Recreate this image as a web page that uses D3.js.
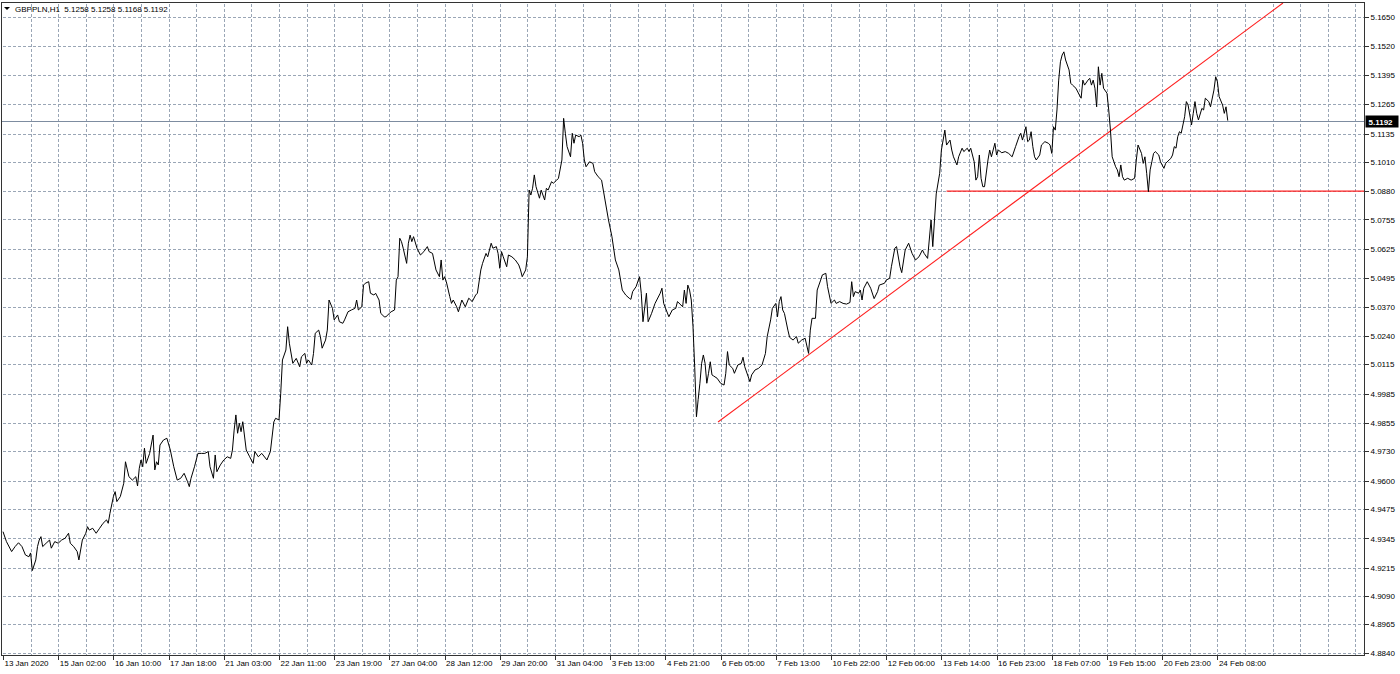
<!DOCTYPE html>
<html><head><meta charset="utf-8">
<script src="https://cdn.jsdelivr.net/npm/d3@7"></script>
<style>
html,body{margin:0;padding:0;background:#fff;overflow:hidden}
text{font-family:"Liberation Sans",Arial,sans-serif;}
</style>
</head><body>
<svg id="c" width="1400" height="674"></svg>
<script>
// ---------- DATA ----------
const symbolTitle = "GBPPLN,H1";
const headerOHLC = [5.1258, 5.1258, 5.1168, 5.1192];
const lastPrice = 5.1192;

const priceTicks = [5.1650, 5.1520, 5.1395, 5.1265, 5.1135, 5.1010, 5.0880, 5.0755, 5.0625, 5.0495,
  5.0370, 5.0240, 5.0115, 4.9985, 4.9855, 4.9730, 4.9600, 4.9475, 4.9345, 4.9215, 4.9090, 4.8965, 4.8840];

const timeLabelBars = [0, 32, 64, 96, 128, 160, 192, 224, 256, 288, 320, 352, 384, 416, 448, 480, 512, 544, 576, 608, 640, 672, 704];
const timeLabels = ["13 Jan 2020", "15 Jan 02:00", "16 Jan 10:00", "17 Jan 18:00", "21 Jan 03:00", "22 Jan 11:00",
  "23 Jan 19:00", "27 Jan 04:00", "28 Jan 12:00", "29 Jan 20:00", "31 Jan 04:00", "3 Feb 13:00", "4 Feb 21:00",
  "6 Feb 05:00", "7 Feb 13:00", "10 Feb 22:00", "12 Feb 06:00", "13 Feb 14:00", "16 Feb 23:00", "18 Feb 07:00",
  "19 Feb 15:00", "20 Feb 23:00", "24 Feb 08:00"];

// [bar index (H1), close]
const priceSeries = [
[0,4.9375],[2,4.9331],[5,4.9287],[7,4.9309],[9,4.9326],[11,4.9309],[13,4.9272],[15,4.9264],[16,4.9281],[17,4.9203],
[19,4.9250],[20,4.9309],[21,4.9338],[22,4.9353],[23,4.9309],[25,4.9324],[27,4.9338],[28,4.9302],[30,4.9331],[32,4.9324],
[34,4.9338],[36,4.9346],[38,4.9368],[39,4.9324],[41,4.9309],[43,4.9287],[44,4.9250],[46,4.9338],[48,4.9368],[49,4.9397],
[50,4.9382],[52,4.9390],[54,4.9368],[56,4.9390],[58,4.9412],[60,4.9427],[61,4.9412],[62,4.9456],[64,4.9530],[65,4.9552],
[66,4.9508],[68,4.9530],[70,4.9589],[71,4.9684],[73,4.9618],[75,4.9603],[77,4.9618],[78,4.9577],[79,4.9655],[80,4.9692],
[81,4.9662],[82,4.9744],[83,4.9677],[85,4.9721],[87,4.9802],[88,4.9648],[89,4.9684],[90,4.9670],[91,4.9758],[93,4.9780],
[95,4.9788],[97,4.9736],[99,4.9662],[101,4.9603],[103,4.9611],[105,4.9633],[107,4.9596],[108,4.9574],[109,4.9611],[111,4.9662],
[113,4.9721],[115,4.9721],[117,4.9721],[119,4.9729],[120,4.9662],[122,4.9611],[123,4.9714],[124,4.9640],[126,4.9670],[128,4.9692],
[130,4.9706],[132,4.9699],[133,4.9736],[134,4.9824],[135,4.9891],[136,4.9810],[137,4.9854],[138,4.9817],[139,4.9861],[141,4.9736],
[143,4.9706],[145,4.9677],[146,4.9729],[148,4.9706],[150,4.9721],[153,4.9692],[155,4.9729],[157,4.9860],[158,4.9876],[160,4.9869],
[161,4.9987],[162,5.0134],[164,5.0178],[165,5.0281],[166,5.0208],[168,5.0119],[170,5.0141],[172,5.0104],[173,5.0148],[175,5.0163],
[176,5.0119],[177,5.0134],[179,5.0112],[180,5.0163],[181,5.0252],[183,5.0266],[184,5.0237],[185,5.0186],[187,5.0222],[188,5.0266],
[189,5.0399],[191,5.0362],[192,5.0311],[194,5.0333],[195,5.0303],[197,5.0296],[198,5.0311],[200,5.0347],[202,5.0355],[204,5.0362],
[205,5.0399],[206,5.0355],[208,5.0369],[209,5.0465],[210,5.0473],[212,5.0480],[213,5.0429],[215,5.0421],[216,5.0429],[218,5.0399],
[219,5.0340],[221,5.0325],[222,5.0325],[224,5.0340],[225,5.0347],[227,5.0355],[228,5.0487],[229,5.0502],[230,5.0672],[231,5.0657],
[232,5.0628],[234,5.0561],[235,5.0650],[236,5.0686],[237,5.0657],[238,5.0679],[240,5.0628],[242,5.0598],[244,5.0613],[246,5.0635],
[247,5.0613],[249,5.0605],[251,5.0532],[253,5.0502],[254,5.0576],[255,5.0487],[256,5.0502],[257,5.0480],[259,5.0414],[260,5.0384],
[261,5.0399],[263,5.0369],[264,5.0347],[266,5.0399],[268,5.0369],[270,5.0407],[272,5.0392],[274,5.0421],[275,5.0429],[277,5.0532],
[278,5.0561],[280,5.0605],[281,5.0590],[283,5.0650],[284,5.0628],[286,5.0635],[287,5.0605],[288,5.0539],[289,5.0613],[290,5.0590],
[292,5.0546],[293,5.0598],[295,5.0590],[297,5.0576],[299,5.0554],[300,5.0532],[301,5.0502],[303,5.0532],[304,5.0590],[305,5.0885],
[306,5.0863],[307,5.0893],[308,5.0952],[309,5.0900],[311,5.0849],[312,5.0885],[314,5.0841],[315,5.0893],[316,5.0885],[318,5.0922],
[319,5.0915],[321,5.0929],[322,5.0937],[324,5.1018],[325,5.1202],[326,5.1136],[327,5.1077],[329,5.1032],[330,5.1136],[331,5.1092],
[332,5.1128],[334,5.1121],[335,5.1128],[336,5.1092],[337,5.1018],[338,5.0988],[340,5.1010],[342,5.1003],[343,5.0966],[345,5.0944],
[347,5.0929],[349,5.0841],[351,5.0753],[353,5.0679],[355,5.0576],[357,5.0532],[359,5.0443],[361,5.0421],[363,5.0407],[364,5.0402],
[365,5.0436],[367,5.0458],[369,5.0502],[370,5.0429],[371,5.0303],[373,5.0429],[374,5.0303],[376,5.0340],[378,5.0384],[379,5.0399],
[381,5.0429],[382,5.0451],[383,5.0384],[386,5.0325],[388,5.0355],[390,5.0362],[391,5.0392],[393,5.0377],[394,5.0369],[395,5.0443],
[396,5.0384],[397,5.0465],[398,5.0443],[399,5.0399],[400,5.0281],[401,5.0100],[402,4.9883],[403,4.9960],[404,5.0031],[405,5.0119],
[406,5.0156],[407,5.0119],[408,5.0031],[409,5.0075],[410,5.0126],[411,5.0068],[412,5.0063],[414,5.0053],[416,5.0031],[418,5.0023],
[419,5.0075],[420,5.0171],[421,5.0112],[423,5.0097],[424,5.0075],[426,5.0112],[428,5.0119],[429,5.0146],[430,5.0104],[432,5.0060],
[433,5.0038],[434,5.0068],[436,5.0090],[438,5.0097],[440,5.0112],[442,5.0163],[443,5.0237],[445,5.0311],[446,5.0362],[448,5.0384],
[449,5.0325],[450,5.0392],[451,5.0414],[452,5.0355],[453,5.0340],[455,5.0266],[456,5.0234],[458,5.0222],[460,5.0237],[461,5.0208],
[463,5.0222],[465,5.0230],[467,5.0163],[468,5.0266],[469,5.0318],[471,5.0318],[472,5.0443],[474,5.0487],[475,5.0510],[477,5.0517],
[478,5.0458],[480,5.0384],[482,5.0399],[483,5.0384],[485,5.0392],[487,5.0384],[489,5.0381],[491,5.0388],[492,5.0480],[493,5.0414],
[494,5.0436],[496,5.0429],[497,5.0443],[498,5.0399],[499,5.0451],[501,5.0480],[503,5.0451],[505,5.0405],[507,5.0436],[508,5.0465],
[511,5.0473],[512,5.0487],[514,5.0495],[515,5.0546],[517,5.0628],[518,5.0635],[520,5.0546],[521,5.0520],[523,5.0620],[525,5.0650],
[527,5.0605],[529,5.0576],[531,5.0590],[533,5.0620],[534,5.0605],[536,5.0583],[538,5.0753],[539,5.0635],[540,5.0753],[541,5.0868],
[543,5.0959],[544,5.1062],[546,5.1150],[547,5.1084],[549,5.1106],[550,5.1062],[551,5.1032],[553,5.0996],[554,5.1032],[556,5.1070],
[557,5.1055],[559,5.1070],[560,5.1055],[561,5.1070],[563,5.1010],[564,5.0929],[565,5.0944],[566,5.1040],[567,5.0937],[568,5.0900],
[569,5.0900],[571,5.1018],[572,5.1062],[573,5.1032],[575,5.1092],[576,5.1040],[577,5.1062],[579,5.1050],[581,5.1055],[583,5.1047],
[585,5.1032],[587,5.1077],[589,5.1121],[590,5.1136],[591,5.1106],[593,5.1165],[594,5.1099],[595,5.1106],[596,5.1143],[597,5.1077],
[598,5.1032],[599,5.1018],[601,5.1040],[602,5.1084],[604,5.1099],[606,5.1092],[607,5.1084],[608,5.1047],[609,5.1165],[610,5.1150],
[611,5.1239],[612,5.1371],[613,5.1452],[614,5.1482],[615,5.1496],[616,5.1460],[618,5.1416],[619,5.1357],[620,5.1349],[622,5.1335],
[624,5.1305],[625,5.1291],[626,5.1371],[627,5.1349],[629,5.1371],[630,5.1379],[631,5.1349],[632,5.1371],[633,5.1335],[634,5.1253],
[635,5.1430],[636,5.1349],[637,5.1401],[638,5.1335],[640,5.1313],[641,5.1239],[642,5.1150],[643,5.1032],[645,5.0988],[646,5.0974],
[647,5.0944],[648,5.0996],[649,5.0944],[650,5.0929],[652,5.0937],[654,5.0929],[656,5.0937],[657,5.1018],[658,5.1084],[660,5.1047],
[661,5.1003],[662,5.1032],[663,5.0959],[664,5.0878],[665,5.0974],[666,5.1010],[667,5.1047],[668,5.1055],[670,5.1040],[671,5.1010],
[673,5.0981],[674,5.1003],[676,5.1018],[677,5.1025],[678,5.1040],[679,5.1077],[680,5.1070],[681,5.1121],[682,5.1143],[683,5.1136],
[685,5.1209],[686,5.1276],[687,5.1261],[689,5.1173],[690,5.1224],[691,5.1276],[692,5.1224],[693,5.1195],[695,5.1246],[696,5.1239],
[697,5.1291],[699,5.1276],[700,5.1253],[702,5.1327],[703,5.1386],[704,5.1364],[705,5.1298],[707,5.1261],[708,5.1224],[709,5.1253],
[710,5.1192]
];

// drawn objects: [bar, price] endpoints
const trendLine = [[414.5, 4.9860], [742, 5.1712]];
const supportLine = [[547, 5.0880], [800, 5.0880]];

// ---------- LAYOUT ----------
const W = 1400, H = 674;
const plot = {left: 1.5, top: 2.5, right: 1364.5, bottom: 655.5};
const barsInView = 784;
const gridStepBars = 16;

const x = d3.scaleLinear().domain([0, barsInView]).range([3, 1355.4]);
const y = d3.scaleLinear().domain([4.8840, 5.1650]).range([652.7, 17]);

const svg = d3.select("#c");
svg.append("rect").attr("width", W).attr("height", H).attr("fill", "#fff");

svg.append("defs").append("clipPath").attr("id", "clip")
  .append("rect").attr("x", plot.left + 0.5).attr("y", plot.top + 0.5)
  .attr("width", plot.right - plot.left - 1).attr("height", plot.bottom - plot.top - 1);

const gridColor = "#9aa6b6";
const grid = svg.append("g").attr("stroke", gridColor).attr("stroke-width", 1)
  .attr("stroke-dasharray", "3,2").attr("shape-rendering", "crispEdges");

grid.selectAll("line.h").data(priceTicks).join("line").attr("class", "h")
  .attr("x1", plot.left + 1).attr("x2", plot.right)
  .attr("y1", d => Math.round(y(d)) + 0.5).attr("y2", d => Math.round(y(d)) + 0.5);

grid.selectAll("line.v").data(d3.range(gridStepBars, barsInView + 1, gridStepBars)).join("line").attr("class", "v")
  .attr("x1", d => Math.round(x(d)) + 0.5).attr("x2", d => Math.round(x(d)) + 0.5)
  .attr("y1", plot.top + 1).attr("y2", plot.bottom);

// current price (bid) line
svg.append("line")
  .attr("x1", plot.left).attr("x2", plot.right)
  .attr("y1", Math.round(y(lastPrice)) + 0.5).attr("y2", Math.round(y(lastPrice)) + 0.5)
  .attr("stroke", "#7d8ca0").attr("stroke-width", 1).attr("shape-rendering", "crispEdges");

const clipped = svg.append("g").attr("clip-path", "url(#clip)");

// red drawn objects
const seg = d3.line().x(d => x(d[0])).y(d => y(d[1]));
clipped.append("path").attr("d", seg(trendLine)).attr("fill", "none")
  .attr("stroke", "#ff2020").attr("stroke-width", 1.1);
clipped.append("path").attr("d", seg(supportLine)).attr("fill", "none")
  .attr("stroke", "#ff2020").attr("stroke-width", 1.3);

// price line
clipped.append("path").datum(priceSeries)
  .attr("d", d3.line().x(d => x(d[0])).y(d => y(d[1])))
  .attr("fill", "none").attr("stroke", "#000").attr("stroke-width", 1)
  .attr("stroke-linejoin", "round");

// frame
svg.append("rect").attr("x", plot.left).attr("y", plot.top)
  .attr("width", plot.right - plot.left).attr("height", plot.bottom - plot.top)
  .attr("fill", "none").attr("stroke", "#333").attr("stroke-width", 1)
  .attr("shape-rendering", "crispEdges");

// price axis (right)
const yAxis = d3.axisRight(y).tickValues(priceTicks).tickSize(4).tickPadding(2)
  .tickFormat(d3.format(".4f"));
const gy = svg.append("g").attr("transform", `translate(${plot.right},0)`).call(yAxis);
gy.select(".domain").remove();
gy.selectAll(".tick line").attr("stroke", "#333").attr("shape-rendering", "crispEdges");
gy.selectAll(".tick text").attr("font-size", 8).attr("fill", "#000")
  .attr("font-family", "'Liberation Sans', Arial, sans-serif");

// time axis (bottom)
const xAxis = d3.axisBottom(x).tickValues(timeLabelBars).tickSize(4)
  .tickFormat((d, i) => timeLabels[i]);
const gx = svg.append("g").attr("transform", `translate(0,${plot.bottom})`).call(xAxis);
gx.select(".domain").remove();
gx.selectAll(".tick line").attr("stroke", "#333").attr("shape-rendering", "crispEdges");
gx.selectAll(".tick text").attr("font-size", 8).attr("fill", "#000")
  .attr("text-anchor", "start").attr("x", 1).attr("y", 5)
  .attr("font-family", "'Liberation Sans', Arial, sans-serif");

// last price label
const yl = Math.round(y(lastPrice)) + 0.5;
svg.append("rect").attr("x", plot.right + 1).attr("y", yl - 6).attr("width", 33).attr("height", 12).attr("fill", "#000");
svg.append("text").attr("x", plot.right + 4).attr("y", yl + 3)
  .attr("font-size", 8).attr("font-weight", "bold").attr("fill", "#fff")
  .text(d3.format(".4f")(lastPrice));

// header
svg.append("path").attr("d", "M4,7L10,7L7,10Z").attr("fill", "#000");
svg.append("text").attr("x", 15).attr("y", 12).attr("font-size", 8).attr("fill", "#000")
  .attr("xml:space", "preserve")
  .text(symbolTitle + "  " + headerOHLC.map(d3.format(".4f")).join(" "));
</script>
</body></html>
